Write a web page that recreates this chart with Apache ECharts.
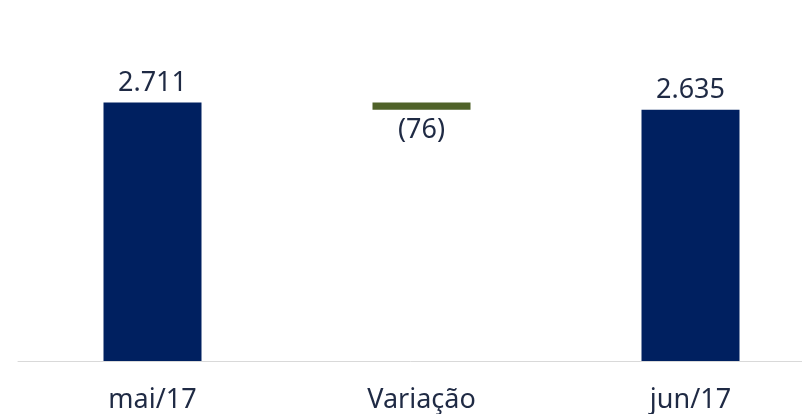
<!DOCTYPE html>
<html>
<head>
<meta charset="utf-8">
<script src="https://cdn.jsdelivr.net/npm/echarts@6/dist/echarts.min.js"></script>
<style>
  html, body { margin: 0; padding: 0; background: #fff; }
  #chart { width: 802px; height: 414px; }
</style>
</head>
<body>
<div id="chart"></div>
<script>
// dados do gráfico
const categories = ['mai/17', 'Variação', 'jun/17'];
const totals = [2711, null, 2635];
const variation = [null, -76, null];
const labels = ['2.711', '(76)', '2.635'];

// base invisível para a barra de variação
const baseData = variation.map((v, i) => v === null ? null : totals[0] + v);
const deltaData = variation.map(v => v === null ? null : Math.abs(v));

const chart = echarts.init(document.getElementById('chart'));
const font = '"Noto Sans", "Open Sans", sans-serif';

const option = {
  backgroundColor: '#ffffff',
  animation: false,
  grid: { left: 18, right: -23, top: 75, bottom: 53, outerBoundsMode: 'none', containLabel: false },
  xAxis: {
    type: 'category',
    data: categories,
    axisLine: { lineStyle: { color: '#d9d9d9', width: 1 } },
    axisTick: { show: false },
    axisLabel: { color: '#1f2a44', fontSize: 27, fontFamily: font, margin: 26 }
  },
  yAxis: {
    type: 'value',
    min: 0,
    max: 3000,
    show: false,
    splitLine: { show: false }
  },
  series: [
    {
      name: 'total',
      type: 'bar',
      stack: 'w',
      barWidth: 98,
      data: totals,
      itemStyle: { color: '#002060' },
      label: {
        show: true,
        position: 'top',
        distance: 6,
        color: '#1f2a44',
        fontSize: 27,
        fontFamily: font,
        formatter: p => labels[p.dataIndex]
      }
    },
    {
      name: 'base',
      type: 'bar',
      stack: 'w',
      data: baseData,
      itemStyle: { color: 'transparent' }
    },
    {
      name: 'variação',
      type: 'bar',
      stack: 'w',
      data: deltaData,
      itemStyle: { color: '#4f6228' },
      label: {
        show: true,
        position: 'bottom',
        distance: 7,
        color: '#1f2a44',
        fontSize: 27,
        fontFamily: font,
        formatter: p => labels[p.dataIndex]
      }
    }
  ]
};

chart.setOption(option);
window.addEventListener('resize', () => chart.resize());
</script>
</body>
</html>
